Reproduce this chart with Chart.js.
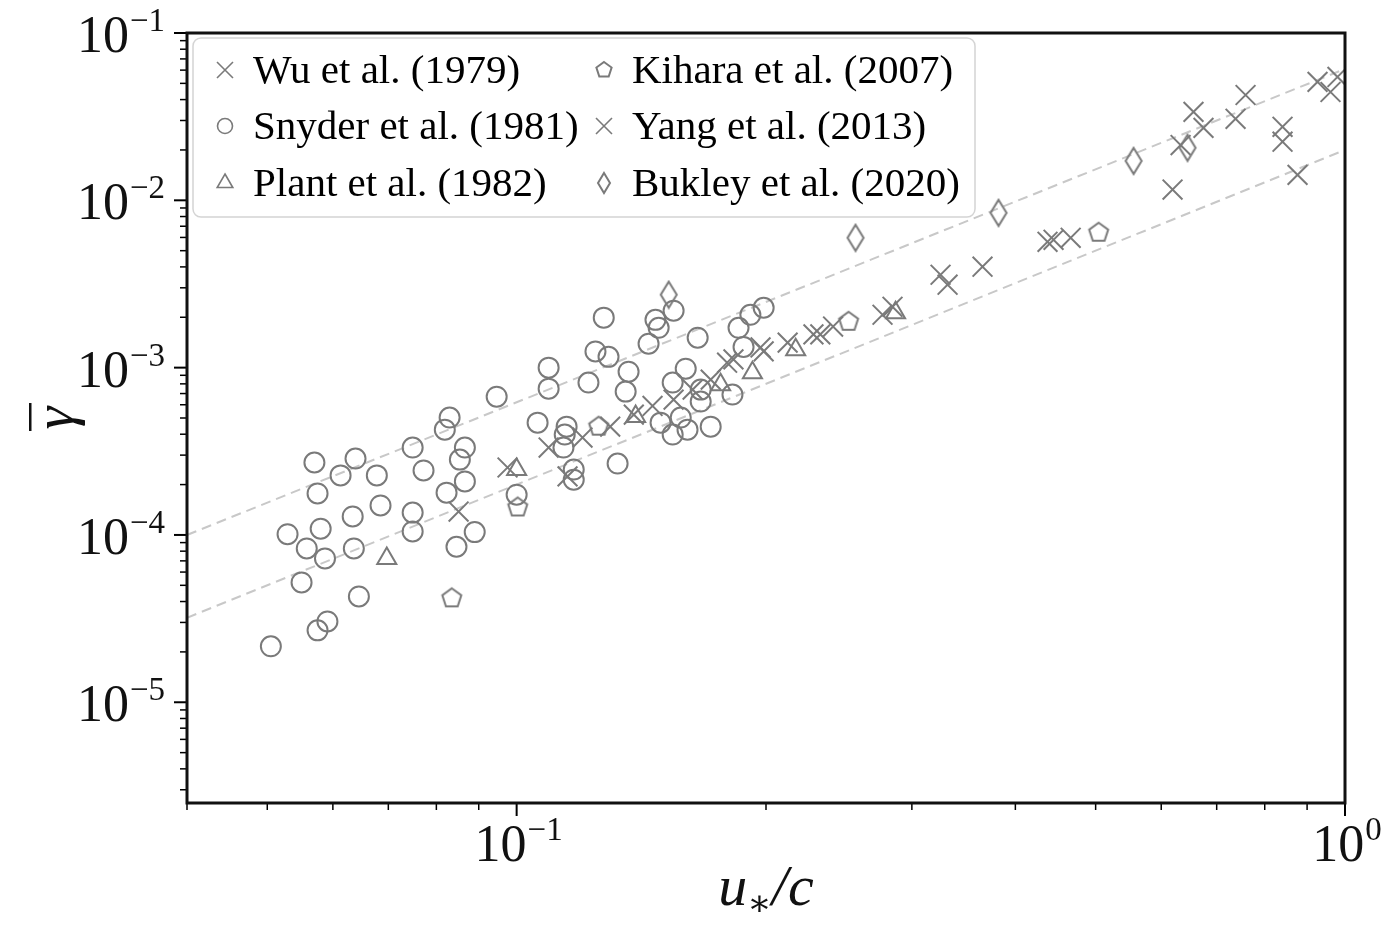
<!DOCTYPE html>
<html>
<head>
<meta charset="utf-8">
<script src="https://cdn.jsdelivr.net/npm/chart.js@4.4.1/dist/chart.umd.min.js"></script>
<style>
  html, body { margin: 0; padding: 0; background: #fff; }
  canvas { display: block; }
</style>
</head>
<body>
<canvas id="myChart_1" width="1383" height="933"></canvas>
<script>
// --- data ---
const wuX = [0.0851, 0.0975, 0.1093, 0.1152, 0.1201, 0.1297, 0.1385, 0.1459, 0.1547, 0.1631, 0.1715,
             0.1795, 0.1827, 0.1970, 0.1987, 0.2124, 0.2282, 0.2326, 0.2410, 0.2765, 0.2843];
const wuY = [1.38e-4, 2.53e-4, 3.33e-4, 2.24e-4, 3.82e-4, 4.44e-4, 5.24e-4, 5.90e-4, 6.44e-4, 7.39e-4, 8.48e-4,
             1.07e-3, 1.12e-3, 1.32e-3, 1.25e-3, 1.41e-3, 1.58e-3, 1.58e-3, 1.76e-3, 2.07e-3, 2.31e-3];

const snyderX = [0.0505, 0.0529, 0.0550, 0.0558, 0.0570, 0.0575, 0.0575, 0.0580, 0.0587, 0.0591,
                 0.0613, 0.0634, 0.0636, 0.0639, 0.0645, 0.0678, 0.0685, 0.0749, 0.0749, 0.0749,
                 0.0772, 0.0819, 0.0830, 0.0823, 0.0846, 0.0854, 0.0866, 0.0866, 0.0890, 0.0946,
                 0.1000, 0.1060, 0.1093, 0.1093, 0.1139, 0.1143, 0.1149, 0.1172, 0.1172, 0.1221,
                 0.1245, 0.1274, 0.1291, 0.1324, 0.1354, 0.1365, 0.1443, 0.1471, 0.1484, 0.1547,
                 0.1543, 0.1600, 0.1654, 0.1492, 0.1543, 0.1608, 0.1578, 0.1668, 0.1668, 0.1715,
                 0.1822, 0.1853, 0.1879, 0.1915, 0.1987];
const snyderY = [2.16e-5, 1.01e-4, 5.2e-5, 8.3e-5, 2.71e-4, 1.77e-4, 2.69e-5, 1.09e-4, 7.24e-5, 3.04e-5,
                 2.27e-4, 1.29e-4, 8.3e-5, 2.86e-4, 4.29e-5, 2.27e-4, 1.50e-4, 3.33e-4, 1.36e-4, 1.05e-4,
                 2.43e-4, 4.26e-4, 5.03e-4, 1.79e-4, 8.5e-5, 2.82e-4, 3.33e-4, 2.09e-4, 1.04e-4, 6.7e-4,
                 1.74e-4, 4.69e-4, 1.0e-3, 7.49e-4, 3.33e-4, 3.98e-4, 4.44e-4, 2.46e-4, 2.14e-4, 8.14e-4,
                 1.25e-3, 1.99e-3, 1.16e-3, 2.67e-4, 7.19e-4, 9.46e-4, 1.39e-3, 1.93e-3, 1.73e-3, 2.19e-3,
                 8.14e-4, 9.86e-4, 1.51e-3, 4.69e-4, 3.98e-4, 4.26e-4, 5.03e-4, 7.39e-4, 6.27e-4, 4.44e-4,
                 6.9e-4, 1.73e-3, 1.33e-3, 2.07e-3, 2.28e-3];

const plantX = [0.0697, 0.1000, 0.1392, 0.1763, 0.1926, 0.2172, 0.2867];
const plantY = [7.24e-5, 2.46e-4, 5.1e-4, 7.91e-4, 9.33e-4, 1.28e-3, 2.13e-3];

const kiharaX = [0.0835, 0.1003, 0.1256, 0.2516, 0.5042];
const kiharaY = [4.18e-5, 1.46e-4, 4.44e-4, 1.88e-3, 6.40e-3];

const yangX = [0.3249, 0.3313, 0.3651, 0.4374, 0.4448, 0.4665, 0.6192, 0.6332, 0.6563, 0.6748,
               0.7377, 0.7585, 0.8406, 0.8406, 0.8764, 0.9265, 0.9605, 0.9793];
const yangY = [3.59e-3, 3.13e-3, 4.01e-3, 5.65e-3, 5.81e-3, 5.97e-3, 0.0116, 0.0214, 0.0338, 0.0271,
               0.0307, 0.0426, 0.0275, 0.0224, 0.0142, 0.0510, 0.0444, 0.0546];

const bukleyX = [0.1526, 0.2565, 0.3817, 0.5556, 0.6455];
const bukleyY = [2.73e-3, 5.97e-3, 8.42e-3, 0.0172, 0.0206];

// dashed reference lines (end points)
const upperLineX = [0.04, 1];
const upperLineY = [1.0e-4, 0.061];
const lowerLineX = [0.04, 1];
const lowerLineY = [3.2e-5, 0.020];

const xTickExp = [-1, 0];
const yTickExp = [-5, -4, -3, -2, -1];
const xMinorTicks = [0.04, 0.05, 0.06, 0.07, 0.08, 0.09, 0.2, 0.3, 0.4, 0.5, 0.6, 0.7, 0.8, 0.9];

const GREY = '#7a7a7a';
const SERIF = '"Liberation Serif", "DejaVu Serif", serif';

function pts(xs, ys) {
    return xs.map((x, i) => ({x: x, y: ys[i]}));
}

// custom marker shapes
function makePentagon(r) {
    const c = document.createElement('canvas');
    const s = Math.ceil(2 * r + 4);
    c.width = s; c.height = s;
    const g = c.getContext('2d');
    g.strokeStyle = GREY;
    g.lineWidth = 2;
    g.beginPath();
    for (let i = 0; i < 5; i++) {
        const a = -Math.PI / 2 + i * 2 * Math.PI / 5;
        const px = s / 2 + r * Math.cos(a), py = s / 2 + r * Math.sin(a);
        if (i === 0) g.moveTo(px, py); else g.lineTo(px, py);
    }
    g.closePath();
    g.stroke();
    return c;
}

function makeDiamond(a, b) {
    const c = document.createElement('canvas');
    c.width = Math.ceil(2 * a + 4); c.height = Math.ceil(2 * b + 4);
    const g = c.getContext('2d');
    const cx = c.width / 2, cy = c.height / 2;
    g.strokeStyle = GREY;
    g.lineWidth = 2;
    g.beginPath();
    g.moveTo(cx, cy - b); g.lineTo(cx + a, cy); g.lineTo(cx, cy + b); g.lineTo(cx - a, cy);
    g.closePath();
    g.stroke();
    return c;
}

const pentagon = makePentagon(10);
const diamond = makeDiamond(8, 13);
const pentagonSmall = makePentagon(8);
const diamondSmall = makeDiamond(6, 10);

function markerSet(label, data, style, radius, legendStyle) {
    return {
        label: label,
        data: data,
        showLine: false,
        pointStyle: style,
        pointRadius: radius,
        pointHoverRadius: radius,
        pointBorderWidth: 2,
        pointBorderColor: GREY,
        pointBackgroundColor: 'rgba(0,0,0,0)',
        borderColor: GREY,
        backgroundColor: 'rgba(0,0,0,0)',
        legendStyle: legendStyle,
        clip: 0,
        order: 1
    };
}

function dashSet(data) {
    return {
        label: '',
        data: data,
        showLine: true,
        pointRadius: 0,
        borderColor: '#c8c8c8',
        borderWidth: 2,
        borderDash: [10, 6],
        fill: false,
        clip: 0,
        order: 2
    };
}

const datasets = [
    markerSet('Wu et al. (1979)', pts(wuX, wuY), 'crossRot', 14, 'crossRot'),
    markerSet('Snyder et al. (1981)', pts(snyderX, snyderY), 'circle', 10, 'circle'),
    markerSet('Plant et al. (1982)', pts(plantX, plantY), 'triangle', 11, 'triangle'),
    markerSet('Kihara et al. (2007)', pts(kiharaX, kiharaY), pentagon, 10, pentagonSmall),
    markerSet('Yang et al. (2013)', pts(yangX, yangY), 'crossRot', 14, 'crossRot'),
    markerSet('Bukley et al. (2020)', pts(bukleyX, bukleyY), diamond, 10, diamondSmall),
    dashSet(pts(upperLineX, upperLineY)),
    dashSet(pts(lowerLineX, lowerLineY))
];

function drawLegendMarker(ctx, style, x, y) {
    ctx.save();
    ctx.strokeStyle = GREY;
    ctx.lineWidth = 1.6;
    if (style === 'crossRot') {
        const d = 8;
        ctx.beginPath();
        ctx.moveTo(x - d, y - d); ctx.lineTo(x + d, y + d);
        ctx.moveTo(x - d, y + d); ctx.lineTo(x + d, y - d);
        ctx.stroke();
    } else if (style === 'circle') {
        ctx.beginPath();
        ctx.arc(x, y, 7.5, 0, Math.PI * 2);
        ctx.stroke();
    } else if (style === 'triangle') {
        const r = 9;
        ctx.beginPath();
        ctx.moveTo(x, y - r);
        ctx.lineTo(x + r * Math.sin(2 * Math.PI / 3), y + r / 2);
        ctx.lineTo(x - r * Math.sin(2 * Math.PI / 3), y + r / 2);
        ctx.closePath();
        ctx.stroke();
    } else {
        ctx.drawImage(style, x - style.width / 2, y - style.height / 2);
    }
    ctx.restore();
}

function powLabel(ctx, exp, x, y, align) {
    const base = '10';
    const sup = exp < 0 ? '\u2212' + Math.abs(exp) : String(exp);
    ctx.font = '52px ' + SERIF;
    const wb = ctx.measureText(base).width;
    ctx.font = '33px ' + SERIF;
    const ws = ctx.measureText(sup).width;
    const total = wb + ws + 1;
    let x0 = align === 'center' ? x - total / 2 : x - total;
    ctx.textAlign = 'left';
    ctx.textBaseline = 'alphabetic';
    ctx.font = '52px ' + SERIF;
    ctx.fillText(base, x0, y);
    ctx.font = '33px ' + SERIF;
    ctx.fillText(sup, x0 + wb + 1, y - 21);
}

const legendPlugin = {
    id: 'boxLegend',
    afterDatasetsDraw(chart) {
        const ctx = chart.ctx;
        const a = chart.chartArea;
        const bx = a.left + 6, by = a.top + 5, bw = 782, bh = 179;
        ctx.save();
        ctx.beginPath();
        ctx.roundRect(bx, by, bw, bh, 8);
        ctx.fillStyle = 'rgba(255,255,255,0.85)';
        ctx.fill();
        ctx.strokeStyle = '#d4d4d4';
        ctx.lineWidth = 1.5;
        ctx.stroke();
        const sets = chart.data.datasets.filter(d => d.label);
        const colX = [bx + 32, bx + 411];
        const rowY = [by + 32, by + 88, by + 145];
        ctx.fillStyle = '#000';
        ctx.font = '41px ' + SERIF;
        ctx.textAlign = 'left';
        ctx.textBaseline = 'alphabetic';
        sets.forEach((d, i) => {
            const c = Math.floor(i / 3), r = i % 3;
            drawLegendMarker(ctx, d.legendStyle, colX[c], rowY[r]);
            ctx.fillStyle = '#000';
            ctx.font = '41px ' + SERIF;
            ctx.fillText(d.label, colX[c] + 28, rowY[r] + 13);
        });
        ctx.restore();
    }
};

const axesPlugin = {
    id: 'mplAxes',
    afterDraw(chart) {
        const ctx = chart.ctx;
        const a = chart.chartArea;
        const xs = chart.scales.x, ys = chart.scales.y;
        ctx.save();
        ctx.strokeStyle = '#000';
        ctx.fillStyle = '#000';

        // ticks
        function tick(x1, y1, x2, y2, w) {
            ctx.lineWidth = w;
            ctx.beginPath();
            ctx.moveTo(x1, y1); ctx.lineTo(x2, y2);
            ctx.stroke();
        }
        xMinorTicks.forEach(v => {
            const p = xs.getPixelForValue(v);
            tick(p, a.bottom, p, a.bottom + 7, 1.5);
        });
        xTickExp.forEach(e => {
            const p = xs.getPixelForValue(Math.pow(10, e));
            tick(p, a.bottom, p, a.bottom + 13, 2);
        });
        for (let e = -6; e <= -2; e++) {
            for (let m = 2; m <= 9; m++) {
                const v = m * Math.pow(10, e);
                if (v < ys.min || v > ys.max) continue;
                const p = ys.getPixelForValue(v);
                tick(a.left, p, a.left - 7, p, 1.5);
            }
        }
        yTickExp.forEach(e => {
            const p = ys.getPixelForValue(Math.pow(10, e));
            tick(a.left, p, a.left - 13, p, 2);
        });

        // frame
        ctx.lineWidth = 3;
        ctx.strokeStyle = '#111';
        ctx.strokeRect(a.left, a.top, a.right - a.left, a.bottom - a.top);

        // tick labels
        ctx.fillStyle = '#111';
        xTickExp.forEach(e => {
            const p = xs.getPixelForValue(Math.pow(10, e));
            powLabel(ctx, e, p + 2, a.bottom + 58, 'center');
        });
        yTickExp.forEach(e => {
            const p = ys.getPixelForValue(Math.pow(10, e));
            powLabel(ctx, e, a.left - 22, p + 19, 'right');
        });

        // x title: u* / c
        ctx.textBaseline = 'alphabetic';
        ctx.textAlign = 'left';
        const big = 'italic 58px ' + SERIF, small = '36px ' + SERIF;
        ctx.font = big; const wu = ctx.measureText('u').width;
        ctx.font = small; const wst = ctx.measureText('\u2217').width;
        ctx.font = big; const wc = ctx.measureText('/c').width;
        const tw = wu + wst + wc;
        let tx = (a.left + a.right) / 2 - tw / 2;
        const ty = 905;
        ctx.font = big; ctx.fillText('u', tx, ty);
        ctx.font = small; ctx.fillText('\u2217', tx + wu, ty + 10);
        ctx.font = big; ctx.fillText('/c', tx + wu + wst, ty);

        // y title: gamma bar
        ctx.save();
        ctx.translate(58, (a.top + a.bottom) / 2);
        ctx.rotate(-Math.PI / 2);
        ctx.font = 'italic 58px ' + SERIF;
        ctx.textAlign = 'center';
        ctx.textBaseline = 'middle';
        ctx.fillText('\u03b3', 0, 0);
        ctx.fillRect(-13, -29, 28, 2.5);
        ctx.restore();

        ctx.restore();
    }
};

window.myChart_1 = new Chart(document.getElementById('myChart_1'), {
    type: 'scatter',
    data: { datasets: datasets },
    options: {
        responsive: false,
        animation: false,
        events: [],
        layout: { padding: { left: 0, top: 33, right: 38, bottom: 0 } },
        plugins: {
            legend: { display: false },
            tooltip: { enabled: false },
            title: { display: false }
        },
        scales: {
            x: {
                type: 'logarithmic',
                min: 0.04,
                max: 1,
                ticks: { display: false },
                grid: { display: false },
                border: { display: false },
                afterFit: s => { s.height = 130; }
            },
            y: {
                type: 'logarithmic',
                min: 2.5e-6,
                max: 0.1,
                ticks: { display: false },
                grid: { display: false },
                border: { display: false },
                afterFit: s => { s.width = 187; }
            }
        }
    },
    plugins: [legendPlugin, axesPlugin]
});
</script>
</body>
</html>
